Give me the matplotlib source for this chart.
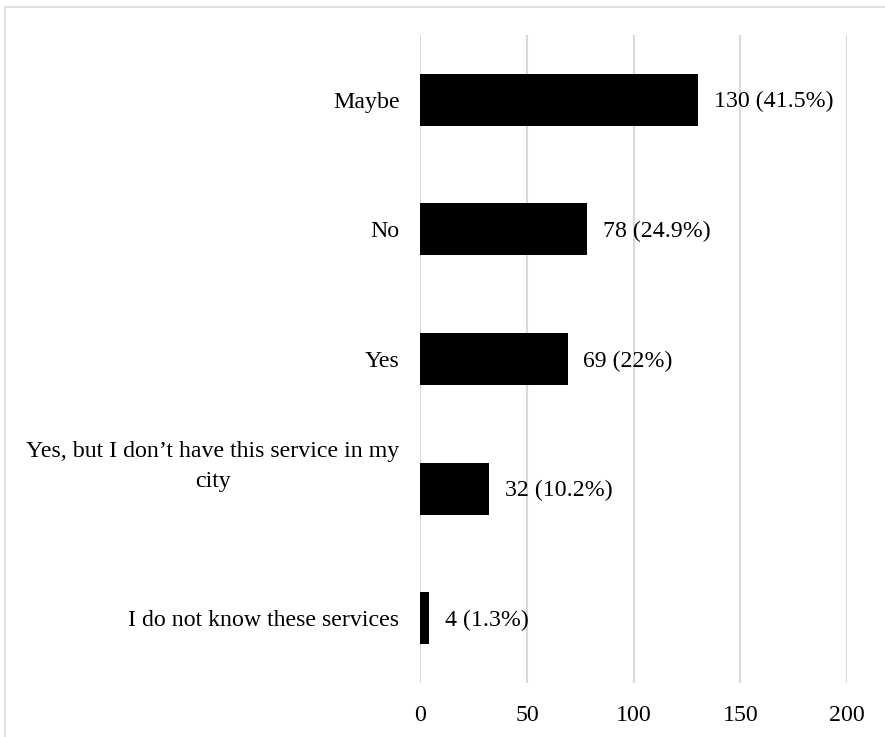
import matplotlib
matplotlib.use("Agg")
import matplotlib.pyplot as plt
from matplotlib.patches import Rectangle
from matplotlib.transforms import ScaledTranslation

# Survey answers, bottom to top as drawn
categories = [
    "I do not know these services",
    "Yes, but I don\u2019t have this service in my\ncity",
    "Yes",
    "No",
    "Maybe",
]
counts = [4, 32, 69, 78, 130]
bar_labels = ["4 (1.3%)", "32 (10.2%)", "69 (22%)", "78 (24.9%)", "130 (41.5%)"]
x_ticks = [0, 50, 100, 150, 200]

plt.rcParams['font.family'] = ['Liberation Serif', 'DejaVu Serif']
plt.rcParams['font.size'] = 17.2

fig = plt.figure(figsize=(8.85, 7.37), dpi=100)
ax = fig.add_axes([0.4749, 0.0733, 0.4822, 0.8792])

# light frame around the chart area (cut off at right and bottom)
fig.patches.append(Rectangle((5 / 885, -0.05), 1.2, 1 - 7 / 737 + 0.05,
                             transform=fig.transFigure, fill=False,
                             edgecolor="#d9d9d9", linewidth=1.2))

ypos = list(range(len(categories)))
ax.barh(ypos, counts, height=0.4, color="black", zorder=3)

for y, c, lab in zip(ypos, counts, bar_labels):
    ax.annotate(lab, (c, y), xytext=(11.5, -1.5), textcoords="offset points",
                va="center", ha="left")

ax.set_xlim(0, 200)
ax.set_ylim(-0.5, 4.5)
ax.set_xticks(x_ticks)
ax.set_yticks(ypos)
ax.set_yticklabels(categories, multialignment="center", linespacing=1.55)
ax.tick_params(axis="both", length=0)
ax.tick_params(axis="y", pad=15)
ax.tick_params(axis="x", pad=16)
ax.xaxis.grid(True, color="#d9d9d9", linewidth=1.5, zorder=0)
ax.set_axisbelow(True)
for s in ax.spines.values():
    s.set_visible(False)

# the wrapped label sits higher than its bar in the original
lbl = ax.get_yticklabels()[1]
lbl.set_transform(lbl.get_transform() + ScaledTranslation(0, 0.29, fig.dpi_scale_trans))

fig.savefig("out.png", dpi=100)
